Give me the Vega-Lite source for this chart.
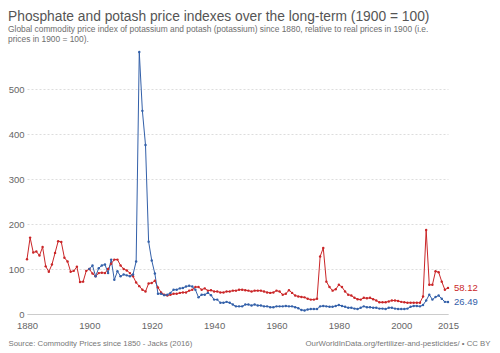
{
  "$schema": "https://vega.github.io/schema/vega-lite/v6.json",
  "width": 421,
  "height": 262,
  "autosize": {"type": "none"},
  "padding": {"left": 27, "top": 52, "right": 52, "bottom": 39},
  "background": "white",
  "config": {"view": {"stroke": null}, "font": "Liberation Sans"},
  "title": {
    "text": "Phosphate and potash price indexes over the long-term (1900 = 100)",
    "subtitle": ["Global commodity price index of potassium and potash (potassium) since 1880, relative to real prices in 1900 (i.e.", "prices in 1900 = 100)."],
    "anchor": "start",
    "frame": "group",
    "dx": -19,
    "offset": 7,
    "font": "Liberation Sans",
    "fontSize": 13.8,
    "fontWeight": "normal",
    "color": "#555555",
    "subtitleFont": "Liberation Sans",
    "subtitleFontSize": 8.4,
    "subtitleColor": "#6e6e6e",
    "subtitlePadding": 1,
    "subtitleLineHeight": 9.5
  },
  "data": {"values": [
    {"series":"Phosphate","year":1880,"value":122},{"series":"Phosphate","year":1881,"value":170},{"series":"Phosphate","year":1882,"value":137},{"series":"Phosphate","year":1883,"value":139},{"series":"Phosphate","year":1884,"value":130},{"series":"Phosphate","year":1885,"value":149},{"series":"Phosphate","year":1886,"value":106},{"series":"Phosphate","year":1887,"value":94},{"series":"Phosphate","year":1888,"value":110},{"series":"Phosphate","year":1889,"value":136},
    {"series":"Phosphate","year":1890,"value":162},{"series":"Phosphate","year":1891,"value":160},{"series":"Phosphate","year":1892,"value":125},{"series":"Phosphate","year":1893,"value":117},{"series":"Phosphate","year":1894,"value":94},{"series":"Phosphate","year":1895,"value":96},{"series":"Phosphate","year":1896,"value":105},{"series":"Phosphate","year":1897,"value":71},{"series":"Phosphate","year":1898,"value":72},{"series":"Phosphate","year":1899,"value":96},
    {"series":"Phosphate","year":1900,"value":100},{"series":"Phosphate","year":1901,"value":90},{"series":"Phosphate","year":1902,"value":84},{"series":"Phosphate","year":1903,"value":91},{"series":"Phosphate","year":1904,"value":92},{"series":"Phosphate","year":1905,"value":91},{"series":"Phosphate","year":1906,"value":100},{"series":"Phosphate","year":1907,"value":112},{"series":"Phosphate","year":1908,"value":121},{"series":"Phosphate","year":1909,"value":121},
    {"series":"Phosphate","year":1910,"value":108},{"series":"Phosphate","year":1911,"value":100},{"series":"Phosphate","year":1912,"value":97},{"series":"Phosphate","year":1913,"value":91},{"series":"Phosphate","year":1914,"value":84},{"series":"Phosphate","year":1915,"value":70},{"series":"Phosphate","year":1916,"value":62},{"series":"Phosphate","year":1917,"value":54},{"series":"Phosphate","year":1918,"value":50},{"series":"Phosphate","year":1919,"value":68},
    {"series":"Phosphate","year":1920,"value":69},{"series":"Phosphate","year":1921,"value":74},{"series":"Phosphate","year":1922,"value":59},{"series":"Phosphate","year":1923,"value":48},{"series":"Phosphate","year":1924,"value":43},{"series":"Phosphate","year":1925,"value":41},{"series":"Phosphate","year":1926,"value":43},{"series":"Phosphate","year":1927,"value":45},{"series":"Phosphate","year":1928,"value":45},{"series":"Phosphate","year":1929,"value":47},
    {"series":"Phosphate","year":1930,"value":48},{"series":"Phosphate","year":1931,"value":48},{"series":"Phosphate","year":1932,"value":52},{"series":"Phosphate","year":1933,"value":54},{"series":"Phosphate","year":1934,"value":60},{"series":"Phosphate","year":1935,"value":60},{"series":"Phosphate","year":1936,"value":54},{"series":"Phosphate","year":1937,"value":57},{"series":"Phosphate","year":1938,"value":52},{"series":"Phosphate","year":1939,"value":53},
    {"series":"Phosphate","year":1940,"value":50},{"series":"Phosphate","year":1941,"value":50},{"series":"Phosphate","year":1942,"value":48},{"series":"Phosphate","year":1943,"value":48},{"series":"Phosphate","year":1944,"value":50},{"series":"Phosphate","year":1945,"value":50},{"series":"Phosphate","year":1946,"value":52},{"series":"Phosphate","year":1947,"value":52},{"series":"Phosphate","year":1948,"value":54},{"series":"Phosphate","year":1949,"value":54},
    {"series":"Phosphate","year":1950,"value":53},{"series":"Phosphate","year":1951,"value":52},{"series":"Phosphate","year":1952,"value":50},{"series":"Phosphate","year":1953,"value":52},{"series":"Phosphate","year":1954,"value":52},{"series":"Phosphate","year":1955,"value":52},{"series":"Phosphate","year":1956,"value":50},{"series":"Phosphate","year":1957,"value":48},{"series":"Phosphate","year":1958,"value":47},{"series":"Phosphate","year":1959,"value":48},
    {"series":"Phosphate","year":1960,"value":52},{"series":"Phosphate","year":1961,"value":50},{"series":"Phosphate","year":1962,"value":43},{"series":"Phosphate","year":1963,"value":45},{"series":"Phosphate","year":1964,"value":53},{"series":"Phosphate","year":1965,"value":47},{"series":"Phosphate","year":1966,"value":41},{"series":"Phosphate","year":1967,"value":39},{"series":"Phosphate","year":1968,"value":38},{"series":"Phosphate","year":1969,"value":37},
    {"series":"Phosphate","year":1970,"value":34},{"series":"Phosphate","year":1971,"value":32},{"series":"Phosphate","year":1972,"value":32},{"series":"Phosphate","year":1973,"value":34},{"series":"Phosphate","year":1974,"value":128},{"series":"Phosphate","year":1975,"value":147},{"series":"Phosphate","year":1976,"value":72},{"series":"Phosphate","year":1977,"value":60},{"series":"Phosphate","year":1978,"value":52},{"series":"Phosphate","year":1979,"value":55},
    {"series":"Phosphate","year":1980,"value":65},{"series":"Phosphate","year":1981,"value":60},{"series":"Phosphate","year":1982,"value":50},{"series":"Phosphate","year":1983,"value":43},{"series":"Phosphate","year":1984,"value":41},{"series":"Phosphate","year":1985,"value":36},{"series":"Phosphate","year":1986,"value":33},{"series":"Phosphate","year":1987,"value":32},{"series":"Phosphate","year":1988,"value":36},{"series":"Phosphate","year":1989,"value":35},
    {"series":"Phosphate","year":1990,"value":36},{"series":"Phosphate","year":1991,"value":33},{"series":"Phosphate","year":1992,"value":30},{"series":"Phosphate","year":1993,"value":26},{"series":"Phosphate","year":1994,"value":26},{"series":"Phosphate","year":1995,"value":26},{"series":"Phosphate","year":1996,"value":28},{"series":"Phosphate","year":1997,"value":30},{"series":"Phosphate","year":1998,"value":30},{"series":"Phosphate","year":1999,"value":29},
    {"series":"Phosphate","year":2000,"value":27},{"series":"Phosphate","year":2001,"value":26},{"series":"Phosphate","year":2002,"value":25},{"series":"Phosphate","year":2003,"value":25},{"series":"Phosphate","year":2004,"value":25},{"series":"Phosphate","year":2005,"value":25},{"series":"Phosphate","year":2006,"value":25},{"series":"Phosphate","year":2007,"value":39},{"series":"Phosphate","year":2008,"value":187},{"series":"Phosphate","year":2009,"value":65},
    {"series":"Phosphate","year":2010,"value":65},{"series":"Phosphate","year":2011,"value":95},{"series":"Phosphate","year":2012,"value":93},{"series":"Phosphate","year":2013,"value":72},{"series":"Phosphate","year":2014,"value":54},{"series":"Phosphate","year":2015,"value":58.12},
    {"series":"Potash","year":1900,"value":100},{"series":"Potash","year":1901,"value":108},{"series":"Potash","year":1902,"value":84},{"series":"Potash","year":1903,"value":102},{"series":"Potash","year":1904,"value":108},{"series":"Potash","year":1905,"value":110},{"series":"Potash","year":1906,"value":91},{"series":"Potash","year":1907,"value":121},{"series":"Potash","year":1908,"value":76},{"series":"Potash","year":1909,"value":95},
    {"series":"Potash","year":1910,"value":84},{"series":"Potash","year":1911,"value":88},{"series":"Potash","year":1912,"value":86},{"series":"Potash","year":1913,"value":84},{"series":"Potash","year":1914,"value":88},{"series":"Potash","year":1915,"value":117},{"series":"Potash","year":1916,"value":583},{"series":"Potash","year":1917,"value":452},{"series":"Potash","year":1918,"value":376},{"series":"Potash","year":1919,"value":161},
    {"series":"Potash","year":1920,"value":119},{"series":"Potash","year":1921,"value":90},{"series":"Potash","year":1922,"value":45},{"series":"Potash","year":1923,"value":45},{"series":"Potash","year":1924,"value":42},{"series":"Potash","year":1925,"value":43},{"series":"Potash","year":1926,"value":47},{"series":"Potash","year":1927,"value":54},{"series":"Potash","year":1928,"value":54},{"series":"Potash","year":1929,"value":57},
    {"series":"Potash","year":1930,"value":58},{"series":"Potash","year":1931,"value":61},{"series":"Potash","year":1932,"value":63},{"series":"Potash","year":1933,"value":61},{"series":"Potash","year":1934,"value":54},{"series":"Potash","year":1935,"value":37},{"series":"Potash","year":1936,"value":43},{"series":"Potash","year":1937,"value":43},{"series":"Potash","year":1938,"value":47},{"series":"Potash","year":1939,"value":42},
    {"series":"Potash","year":1940,"value":32},{"series":"Potash","year":1941,"value":32},{"series":"Potash","year":1942,"value":25},{"series":"Potash","year":1943,"value":25},{"series":"Potash","year":1944,"value":27},{"series":"Potash","year":1945,"value":25},{"series":"Potash","year":1946,"value":21},{"series":"Potash","year":1947,"value":17},{"series":"Potash","year":1948,"value":17},{"series":"Potash","year":1949,"value":17},
    {"series":"Potash","year":1950,"value":21},{"series":"Potash","year":1951,"value":21},{"series":"Potash","year":1952,"value":19},{"series":"Potash","year":1953,"value":21},{"series":"Potash","year":1954,"value":19},{"series":"Potash","year":1955,"value":19},{"series":"Potash","year":1956,"value":17},{"series":"Potash","year":1957,"value":17},{"series":"Potash","year":1958,"value":15},{"series":"Potash","year":1959,"value":15},
    {"series":"Potash","year":1960,"value":17},{"series":"Potash","year":1961,"value":17},{"series":"Potash","year":1962,"value":17},{"series":"Potash","year":1963,"value":18},{"series":"Potash","year":1964,"value":17},{"series":"Potash","year":1965,"value":17},{"series":"Potash","year":1966,"value":15},{"series":"Potash","year":1967,"value":13},{"series":"Potash","year":1968,"value":9},{"series":"Potash","year":1969,"value":8},
    {"series":"Potash","year":1970,"value":10},{"series":"Potash","year":1971,"value":11},{"series":"Potash","year":1972,"value":11},{"series":"Potash","year":1973,"value":11},{"series":"Potash","year":1974,"value":17},{"series":"Potash","year":1975,"value":18},{"series":"Potash","year":1976,"value":17},{"series":"Potash","year":1977,"value":16},{"series":"Potash","year":1978,"value":16},{"series":"Potash","year":1979,"value":18},
    {"series":"Potash","year":1980,"value":20},{"series":"Potash","year":1981,"value":18},{"series":"Potash","year":1982,"value":16},{"series":"Potash","year":1983,"value":14},{"series":"Potash","year":1984,"value":14},{"series":"Potash","year":1985,"value":12},{"series":"Potash","year":1986,"value":11},{"series":"Potash","year":1987,"value":14},{"series":"Potash","year":1988,"value":17},{"series":"Potash","year":1989,"value":15},
    {"series":"Potash","year":1990,"value":15},{"series":"Potash","year":1991,"value":14},{"series":"Potash","year":1992,"value":14},{"series":"Potash","year":1993,"value":12},{"series":"Potash","year":1994,"value":12},{"series":"Potash","year":1995,"value":11},{"series":"Potash","year":1996,"value":14},{"series":"Potash","year":1997,"value":14},{"series":"Potash","year":1998,"value":12},{"series":"Potash","year":1999,"value":11},
    {"series":"Potash","year":2000,"value":11},{"series":"Potash","year":2001,"value":11},{"series":"Potash","year":2002,"value":12},{"series":"Potash","year":2003,"value":16},{"series":"Potash","year":2004,"value":18},{"series":"Potash","year":2005,"value":18},{"series":"Potash","year":2006,"value":17},{"series":"Potash","year":2007,"value":20},{"series":"Potash","year":2008,"value":30},{"series":"Potash","year":2009,"value":43},
    {"series":"Potash","year":2010,"value":32},{"series":"Potash","year":2011,"value":38},{"series":"Potash","year":2012,"value":41},{"series":"Potash","year":2013,"value":34},{"series":"Potash","year":2014,"value":27},{"series":"Potash","year":2015,"value":26.49}
  ]},
  "encoding": {
    "x": {
      "field": "year", "type": "quantitative",
      "scale": {"domain": [1880, 2015], "nice": false, "zero": false},
      "axis": {
        "values": [1880, 1900, 1920, 1940, 1960, 1980, 2000, 2015],
        "format": "d",
        "grid": false,
        "ticks": false,
        "labelFlush": false,
        "labelOverlap": false,
        "domainColor": "#cccccc",
        "labelColor": "#666666",
        "labelFontSize": 9.5,
        "labelFont": "Liberation Sans",
        "labelPadding": 6,
        "title": "Source: Commodity Prices since 1850 - Jacks (2016)",
        "titleX": -19,
        "titleY": 29,
        "titleAlign": "left",
        "titleBaseline": "middle",
        "titleAngle": 0,
        "titleFont": "Liberation Sans",
        "titleFontSize": 7.8,
        "titleFontWeight": "normal",
        "titleColor": "#777777"
      }
    },
    "y": {
      "field": "value", "type": "quantitative",
      "scale": {"domain": [0, 583], "nice": false},
      "axis": {
        "values": [0, 100, 200, 300, 400, 500],
        "grid": true,
        "gridColor": "#dddddd",
        "gridDash": [2, 2],
        "domain": false,
        "ticks": false,
        "labelColor": "#666666",
        "labelFontSize": 9.5,
        "labelFont": "Liberation Sans",
        "labelPadding": 3,
        "title": "OurWorldInData.org/fertilizer-and-pesticides/ • CC BY",
        "titleX": 463,
        "titleY": 291,
        "titleAlign": "right",
        "titleBaseline": "middle",
        "titleAngle": 0,
        "titleFont": "Liberation Sans",
        "titleFontSize": 7.8,
        "titleFontWeight": "normal",
        "titleColor": "#777777"
      }
    },
    "color": {
      "field": "series", "type": "nominal",
      "scale": {"domain": ["Phosphate", "Potash"], "range": ["#ca2628", "#3360a9"]},
      "legend": null
    }
  },
  "layer": [
    {"mark": {"type": "line", "strokeWidth": 1, "clip": false}},
    {"mark": {"type": "point", "shape": "circle", "filled": true, "size": 6, "opacity": 1}},
    {
      "transform": [{"filter": "datum.year == 2015"}],
      "mark": {"type": "text", "align": "left", "baseline": "middle", "dx": 6, "fontSize": 9.5, "font": "Liberation Sans"},
      "encoding": {"text": {"field": "value", "type": "quantitative", "format": ".2f"}}
    }
  ]
}
